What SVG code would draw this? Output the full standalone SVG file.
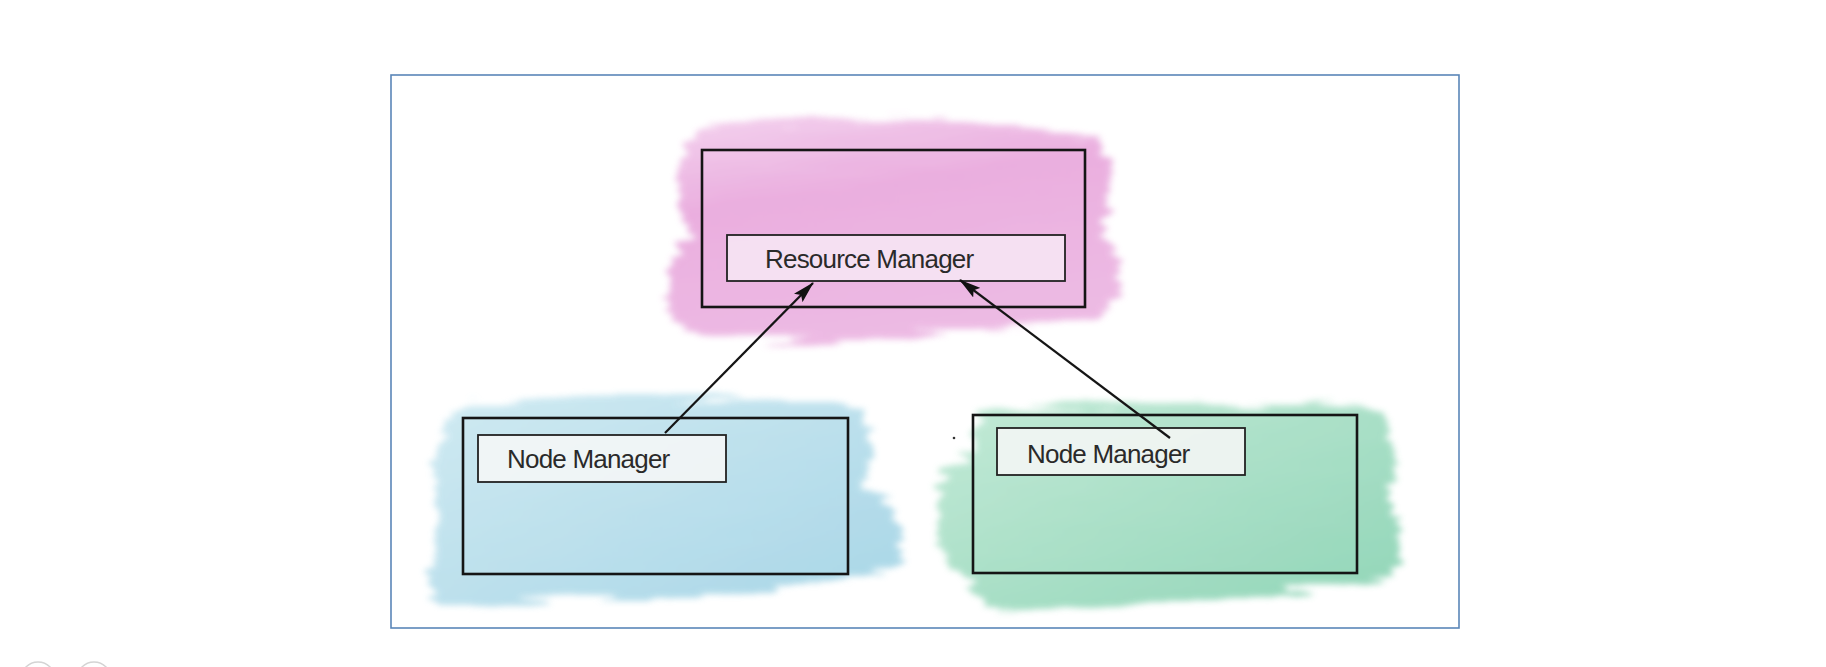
<svg xmlns="http://www.w3.org/2000/svg" width="1826" height="667" viewBox="0 0 1826 667">
<defs>
<filter id="wash" x="-20%" y="-20%" width="140%" height="140%">
<feTurbulence type="fractalNoise" baseFrequency="0.01 0.12" numOctaves="3" seed="4" result="n"/>
<feDisplacementMap in="SourceGraphic" in2="n" scale="26" xChannelSelector="R" yChannelSelector="G" result="d"/>
<feGaussianBlur in="d" stdDeviation="3"/>
</filter>
<marker id="ah" viewBox="0 0 22 12" refX="21" refY="6" markerWidth="22" markerHeight="12" markerUnits="userSpaceOnUse" orient="auto">
<path d="M0,0 L22,6 L0,12 L4,6 Z" fill="#111"/>
</marker>
<linearGradient id="pinkG" x1="0" y1="0" x2="0.3" y2="1">
<stop offset="0" stop-color="#f3cdec"/>
<stop offset="0.4" stop-color="#e8a6dc"/>
<stop offset="1" stop-color="#ebb3e1"/>
</linearGradient>
<linearGradient id="blueG" x1="0" y1="0" x2="1" y2="1">
<stop offset="0" stop-color="#cbe8f1"/>
<stop offset="1" stop-color="#9fd2e4"/>
</linearGradient>
<linearGradient id="greenG" x1="0" y1="0" x2="1" y2="1">
<stop offset="0" stop-color="#bde8d3"/>
<stop offset="1" stop-color="#85d1b0"/>
</linearGradient>
</defs>
<style>
.box{fill:none;stroke:#151515;stroke-width:2.6}
.label{stroke:#222;stroke-width:1.8}
.txt{font-family:"Liberation Sans",Arial,sans-serif;font-size:26px;fill:#2a2a2a;letter-spacing:-0.8px}
.conn{stroke:#151515;stroke-width:2.2;fill:none}
</style>
<rect width="1826" height="667" fill="#ffffff"/>
<rect x="391" y="75" width="1068" height="553" fill="#ffffff" stroke="#5a86b8" stroke-width="1.6"/>

<g id="resource-manager">
<g filter="url(#wash)" fill="url(#pinkG)" opacity="0.9">
<path d="M700,128 C800,112 960,118 1095,138 C1120,160 1110,210 1100,232 C1126,250 1128,300 1100,318 C1000,330 880,338 790,342 C730,344 690,336 676,318 C664,290 668,250 690,232 C670,200 672,150 700,128 Z"/>
</g>
<rect x="702" y="150" width="383" height="157" class="box"/>
<rect x="727" y="235" width="338" height="46" class="label" fill="#f7e8f4" fill-opacity="0.85"/>
<text x="765" y="268" class="txt">Resource Manager</text>
</g>

<g id="node-manager-1">
<g filter="url(#wash)" fill="url(#blueG)" opacity="0.9">
<path d="M470,404 C560,392 760,394 860,410 C880,440 870,470 860,484 C900,500 910,540 895,570 C800,590 620,600 520,600 C480,608 440,612 432,596 C426,570 430,540 440,520 C428,490 430,450 446,430 C450,415 458,408 470,404 Z"/>
</g>
<rect x="463" y="418" width="385" height="156" class="box"/>
<rect x="478" y="435" width="248" height="47" class="label" fill="#f4f6f6" fill-opacity="0.9"/>
<text x="507" y="468" class="txt">Node Manager</text>
</g>

<g id="node-manager-2">
<g filter="url(#wash)" fill="url(#greenG)" opacity="0.9">
<path d="M990,410 C1100,400 1300,398 1380,412 C1400,440 1396,480 1386,500 C1404,520 1404,560 1390,580 C1300,594 1120,606 1040,610 C1000,612 980,606 972,590 C950,570 936,540 940,505 C934,480 948,462 975,455 C970,430 976,416 990,410 Z"/>
</g>
<rect x="973" y="415" width="384" height="158" class="box"/>
<rect x="997" y="428" width="248" height="47" class="label" fill="#f3f5f4" fill-opacity="0.9"/>
<text x="1027" y="463" class="txt">Node Manager</text>
</g>

<circle cx="954" cy="438" r="1.3" fill="#333"/>

<g id="connectors">
<line x1="665" y1="433" x2="813" y2="283" class="conn" marker-end="url(#ah)"/>
<line x1="1170" y1="438" x2="960" y2="280" class="conn" stroke-width="1.8" marker-end="url(#ah)"/>
</g>

<circle cx="38" cy="679" r="17" fill="none" stroke="#d4d4d4" stroke-width="1.5"/>
<circle cx="94" cy="679" r="17" fill="none" stroke="#d4d4d4" stroke-width="1.5"/>
</svg>
